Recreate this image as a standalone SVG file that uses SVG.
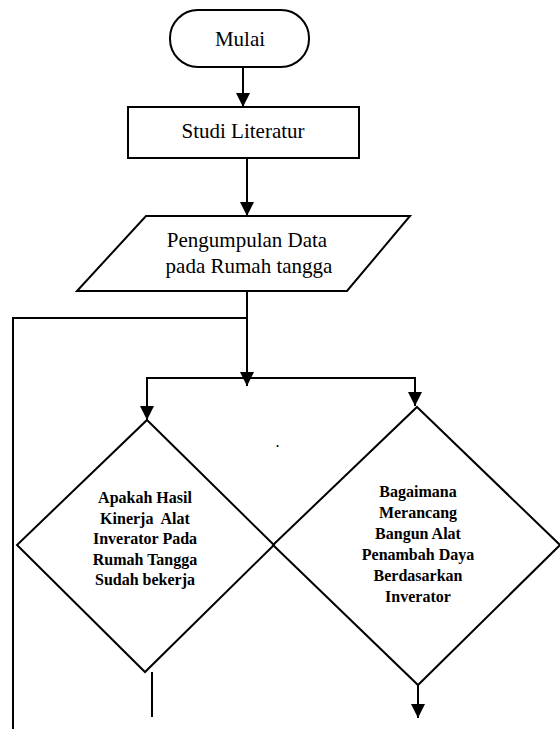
<svg xmlns="http://www.w3.org/2000/svg" width="560" height="729" viewBox="0 0 560 729">
<style>
.s{fill:#fff;stroke:#000;stroke-width:2}
.c{fill:none;stroke:#000;stroke-width:2}
.t{font-family:'Liberation Serif','DejaVu Serif',serif;font-size:21px;fill:#000;text-anchor:middle}
.b{font-family:'Liberation Serif','DejaVu Serif',serif;font-size:16px;font-weight:bold;fill:#000;text-anchor:middle}
</style>
<defs>
<marker id="ah" markerUnits="userSpaceOnUse" markerWidth="16" markerHeight="16" viewBox="0 0 16 16" refX="14" refY="8" orient="auto">
<path d="M0,1 L14,8 L0,15 Z" fill="#000"/>
</marker>
</defs>
<rect width="560" height="729" fill="#fff"/>
<g id="connectors">
<line class="c" x1="243" y1="67" x2="243" y2="107" marker-end="url(#ah)"/>
<line class="c" x1="247" y1="158" x2="247" y2="216" marker-end="url(#ah)"/>
<line class="c" x1="247" y1="291" x2="247" y2="386" marker-end="url(#ah)"/>
<polyline class="c" points="247,318 13,318 13,729"/>
<line class="c" x1="146" y1="378" x2="416" y2="378"/>
<line class="c" x1="147" y1="377" x2="147" y2="420" marker-end="url(#ah)"/>
<line class="c" x1="415" y1="377" x2="415" y2="406" marker-end="url(#ah)"/>
<line class="c" x1="152" y1="672" x2="152" y2="717"/>
<line class="c" x1="418" y1="685" x2="418" y2="718" marker-end="url(#ah)"/>
</g>
<g id="mulai">
<rect class="s" x="170" y="10" width="139" height="57" rx="28" ry="28"/>
<text class="t" x="240" y="46">Mulai</text>
</g>
<g id="studi">
<rect class="s" x="128" y="107" width="231" height="51"/>
<text class="t" x="243" y="138">Studi Literatur</text>
</g>
<g id="pengumpulan">
<polygon class="s" points="146,216 410,216 347,291 77,291"/>
<text class="t" x="247" y="247">Pengumpulan Data</text>
<text class="t" x="249" y="273">pada Rumah tangga</text>
</g>
<g id="decision1">
<polygon class="s" points="147,420 274,545 145,672 17,545"/>
<text class="b" x="145" y="503">Apakah Hasil</text>
<text class="b" x="145" y="524" xml:space="preserve">Kinerja  Alat</text>
<text class="b" x="145" y="544">Inverator Pada</text>
<text class="b" x="145" y="565">Rumah Tangga</text>
<text class="b" x="145" y="585">Sudah bekerja</text>
</g>
<g id="decision2">
<polygon class="s" points="417,407 560,545 418,685 273,545" style="fill:none"/>
<text class="b" x="418" y="497">Bagaimana</text>
<text class="b" x="418" y="518">Merancang</text>
<text class="b" x="418" y="539">Bangun Alat</text>
<text class="b" x="418" y="560">Penambah Daya</text>
<text class="b" x="418" y="581">Berdasarkan</text>
<text class="b" x="418" y="602">Inverator</text>
</g>
<text x="276" y="447" style="font-family:'Liberation Serif',serif;font-size:12px;font-weight:bold">.</text>
</svg>
